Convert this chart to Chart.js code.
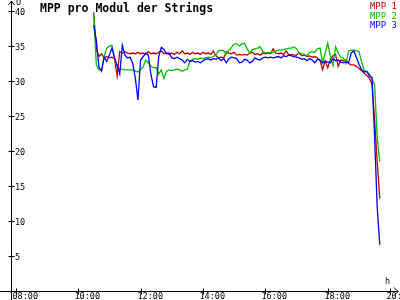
<!DOCTYPE html>
<html>
<head>
<meta charset="utf-8">
<title>MPP pro Modul der Strings</title>
<script src="https://cdn.jsdelivr.net/npm/chart.js@4.4.1/dist/chart.umd.min.js"></script>
<style>
  html, body { margin: 0; padding: 0; background: #ffffff; }
  #wrap { width: 400px; height: 300px; }
</style>
</head>
<body>
<div id="wrap"><canvas id="mppChart" width="400" height="300"></canvas></div>
<script>
// Sample times (5 minute log interval)
const times = [
  '10:30', '10:35', '10:40', '10:45', '10:50', '10:55',
  '11:00', '11:05', '11:10', '11:15', '11:20', '11:25', '11:30', '11:35', '11:40', '11:45', '11:50', '11:55',
  '12:00', '12:05', '12:10', '12:15', '12:20', '12:25', '12:30', '12:35', '12:40', '12:45', '12:50', '12:55',
  '13:00', '13:05', '13:10', '13:15', '13:20', '13:25', '13:30', '13:35', '13:40', '13:45', '13:50', '13:55',
  '14:00', '14:05', '14:10', '14:15', '14:20', '14:25', '14:30', '14:35', '14:40', '14:45', '14:50', '14:55',
  '15:00', '15:05', '15:10', '15:15', '15:20', '15:25', '15:30', '15:35', '15:40', '15:45', '15:50', '15:55',
  '16:00', '16:05', '16:10', '16:15', '16:20', '16:25', '16:30', '16:35', '16:40', '16:45', '16:50', '16:55',
  '17:00', '17:05', '17:10', '17:15', '17:20', '17:25', '17:30', '17:35', '17:40', '17:45', '17:50', '17:55',
  '18:00', '18:05', '18:10', '18:15', '18:20', '18:25', '18:30', '18:35', '18:40', '18:45', '18:50', '18:55',
  '19:00', '19:05', '19:10', '19:15', '19:20', '19:25', '19:30', '19:35', '19:40'
];

// MPP voltage per string (V)
const mpp1 = [
  39.8, 34.5, 33.5, 33.9, 33.3, 33.5,
  33.3, 33.4, 33.2, 30.7, 34.2, 34.0, 34.2, 34.0, 33.9, 34.0, 33.9, 34.1,
  33.9, 34.0, 33.8, 34.2, 33.9, 34.0, 33.9, 34.1, 34.3, 33.9, 34.0, 33.8,
  34.0, 33.8, 34.1, 33.9, 34.3, 33.9, 34.0, 33.8, 34.1, 33.9, 34.0, 33.8,
  34.1, 33.9, 34.0, 33.8, 34.3, 33.6, 33.3, 33.4, 33.3, 34.2, 34.0, 33.9,
  34.1, 33.7, 33.8, 33.7, 33.8, 33.7, 34.0, 34.1, 33.8, 33.9, 33.7, 34.0,
  33.9, 34.0, 33.9, 34.6, 34.0, 33.9, 34.0, 33.8, 34.3, 33.7, 33.8, 33.7,
  33.7, 34.0, 33.6, 33.7, 33.5, 33.6, 33.4, 33.5, 33.3, 33.0, 31.6, 32.9,
  31.9, 33.1, 33.6, 33.8, 32.1, 33.0, 32.9, 33.0, 32.5, 32.3, 32.3, 32.1,
  31.8, 31.5, 31.1, 30.8, 30.4, 29.5, 24.5, 18.5, 13.2
];
const mpp2 = [
  39.4, 32.3, 31.6, 31.6, 33.5, 34.7,
  35.0, 35.1, 33.3, 32.0, 31.7, 31.7, 31.6, 31.6, 31.6, 31.6, 31.4, 31.3,
  31.6, 32.0, 33.0, 32.6, 32.1, 31.9, 31.9, 31.0, 31.6, 30.4, 31.4, 31.6,
  31.5, 31.6, 31.7, 31.6, 31.4, 31.6, 31.7, 32.8, 33.1, 33.2, 33.1, 33.3,
  33.2, 33.3, 33.4, 33.3, 33.5, 33.7, 34.3, 34.4, 34.3, 33.8, 34.4, 34.8,
  35.3, 35.3, 35.0, 35.3, 35.4, 34.6, 34.0, 34.5, 34.6, 34.7, 34.9, 34.2,
  34.0, 34.1, 34.0, 34.1, 34.3, 34.4, 34.4, 34.5, 34.6, 34.7, 34.7, 34.9,
  34.6, 34.0, 33.9, 33.8, 33.6, 34.1, 34.2, 34.1, 34.6, 34.7, 32.6, 34.0,
  35.4, 33.5, 32.2, 34.9, 34.0, 33.4, 33.3, 32.5, 34.3, 34.4, 34.4, 34.3,
  34.2, 32.7, 31.5, 31.3, 31.0, 30.3, 29.5, 22.0, 18.5
];
const mpp3 = [
  38.0, 35.8, 32.0, 31.4, 33.4, 32.8,
  33.7, 34.7, 33.3, 32.3, 31.0, 35.1, 33.7, 33.3, 33.4, 32.5, 30.4, 27.3,
  33.0, 33.5, 34.0, 33.7, 30.9, 29.2, 29.1, 33.5, 34.8, 34.5, 33.9, 34.0,
  33.3, 33.2, 33.4, 33.2, 33.0, 32.6, 33.1, 32.8, 32.9, 32.7, 32.8, 32.6,
  32.9, 33.1, 33.2, 33.0, 33.2, 33.1, 33.3, 32.9, 33.2, 32.6, 33.2, 33.4,
  33.3, 33.2, 32.6, 32.7, 33.1, 33.0, 32.6, 32.8, 33.3, 33.1, 33.0, 33.3,
  33.4, 33.3, 33.4, 33.3, 33.4, 33.5, 33.3, 33.6, 33.5, 33.7, 33.6, 33.5,
  33.4, 33.3, 33.1, 33.2, 32.9, 33.2, 33.0, 32.6, 33.1, 33.0, 32.6, 32.8,
  32.7, 32.6, 33.2, 32.9, 33.0, 32.7, 32.6, 32.7, 32.6, 34.0, 34.3, 33.4,
  32.4, 31.6, 31.3, 31.4, 30.7, 30.5, 22.0, 12.0, 6.6
];

// Axis ticks
const hourTicks = [8, 10, 12, 14, 16, 18, 20];
const hourLabels = ['08:00', '10:00', '12:00', '14:00', '16:00', '18:00', '20:00'];
const voltTicks = [5, 10, 15, 20, 25, 30, 35, 40];

const seriesNames = ['MPP 1', 'MPP 2', 'MPP 3'];
const seriesColors = ['#c00000', '#00c000', '#0000ff'];

// "HH:MM" -> decimal hours
function toHours(t) {
  const parts = t.split(':');
  return parseInt(parts[0], 10) + parseInt(parts[1], 10) / 60;
}

function toPoints(values) {
  return values.map((v, i) => ({ x: toHours(times[i]), y: v }));
}

// Draws the plain axes with arrows, ticks, labels, title and legend
const axesPlugin = {
  id: 'axesPlugin',
  afterDraw(chart) {
    const ctx = chart.ctx;
    const xs = chart.scales.x;
    const ys = chart.scales.y;
    const area = chart.chartArea;
    const ax = Math.round(area.left) + 0.5;   // y axis position
    const ay = Math.round(area.bottom) + 0.5; // x axis position

    ctx.save();
    ctx.strokeStyle = '#000';
    ctx.fillStyle = '#000';
    ctx.lineWidth = 1;

    // axis lines
    ctx.beginPath();
    ctx.moveTo(ax, 1);
    ctx.lineTo(ax, 300);
    ctx.moveTo(0, ay);
    ctx.lineTo(398, ay);
    // arrow heads
    ctx.moveTo(ax - 3, 5);
    ctx.lineTo(ax, 1);
    ctx.lineTo(ax + 3, 5);
    ctx.moveTo(394, ay - 4);
    ctx.lineTo(398, ay);
    ctx.lineTo(394, ay + 4);
    ctx.stroke();

    ctx.font = '8.5px "DejaVu Sans Mono"';
    ctx.textBaseline = 'alphabetic';
    ctx.textAlign = 'left';

    // y ticks
    voltTicks.forEach(v => {
      const py = Math.round(ys.getPixelForValue(v)) + 0.5;
      ctx.beginPath();
      ctx.moveTo(ax - 3, py);
      ctx.lineTo(ax + 3, py);
      ctx.stroke();
      ctx.fillText(String(v), ax + 3.5, py + 3);
    });

    // x ticks
    hourTicks.forEach((h, i) => {
      const px = Math.round(xs.getPixelForValue(h)) + 0.5;
      ctx.beginPath();
      ctx.moveTo(px, ay - 3);
      ctx.lineTo(px, ay + 3);
      ctx.stroke();
      ctx.fillText(hourLabels[i], px - 4, 299);
    });

    // unit labels
    ctx.fillText('U', 16, 5);
    ctx.fillText('h', 385, 284);

    // title
    ctx.font = 'bold 11.5px "DejaVu Sans Mono"';
    ctx.fillText('MPP pro Modul der Strings', 40, 12);

    // legend
    ctx.font = '9px "DejaVu Sans Mono"';
    ctx.textAlign = 'right';
    const legendY = [9, 18.5, 28];
    seriesNames.forEach((name, i) => {
      ctx.fillStyle = seriesColors[i];
      ctx.fillText(name, 397, legendY[i]);
    });

    ctx.restore();
  }
};

const ctx = document.getElementById('mppChart').getContext('2d');
new Chart(ctx, {
  type: 'line',
  data: {
    datasets: [mpp1, mpp2, mpp3].map((values, i) => ({
      label: seriesNames[i],
      data: toPoints(values),
      borderColor: seriesColors[i],
      borderWidth: 1.3,
      pointRadius: 0,
      tension: 0,
      fill: false,
      order: 3 - i // blue drawn on top
    }))
  },
  options: {
    responsive: false,
    animation: false,
    devicePixelRatio: 1,
    layout: { padding: { left: 11, right: 2, top: 2, bottom: 9 } },
    plugins: {
      legend: { display: false },
      title: { display: false },
      tooltip: { enabled: false }
    },
    scales: {
      x: { type: 'linear', min: 7.849, max: 20.25, display: false },
      y: { type: 'linear', min: 0, max: 41.29, display: false }
    }
  },
  plugins: [axesPlugin]
});
</script>
</body>
</html>
